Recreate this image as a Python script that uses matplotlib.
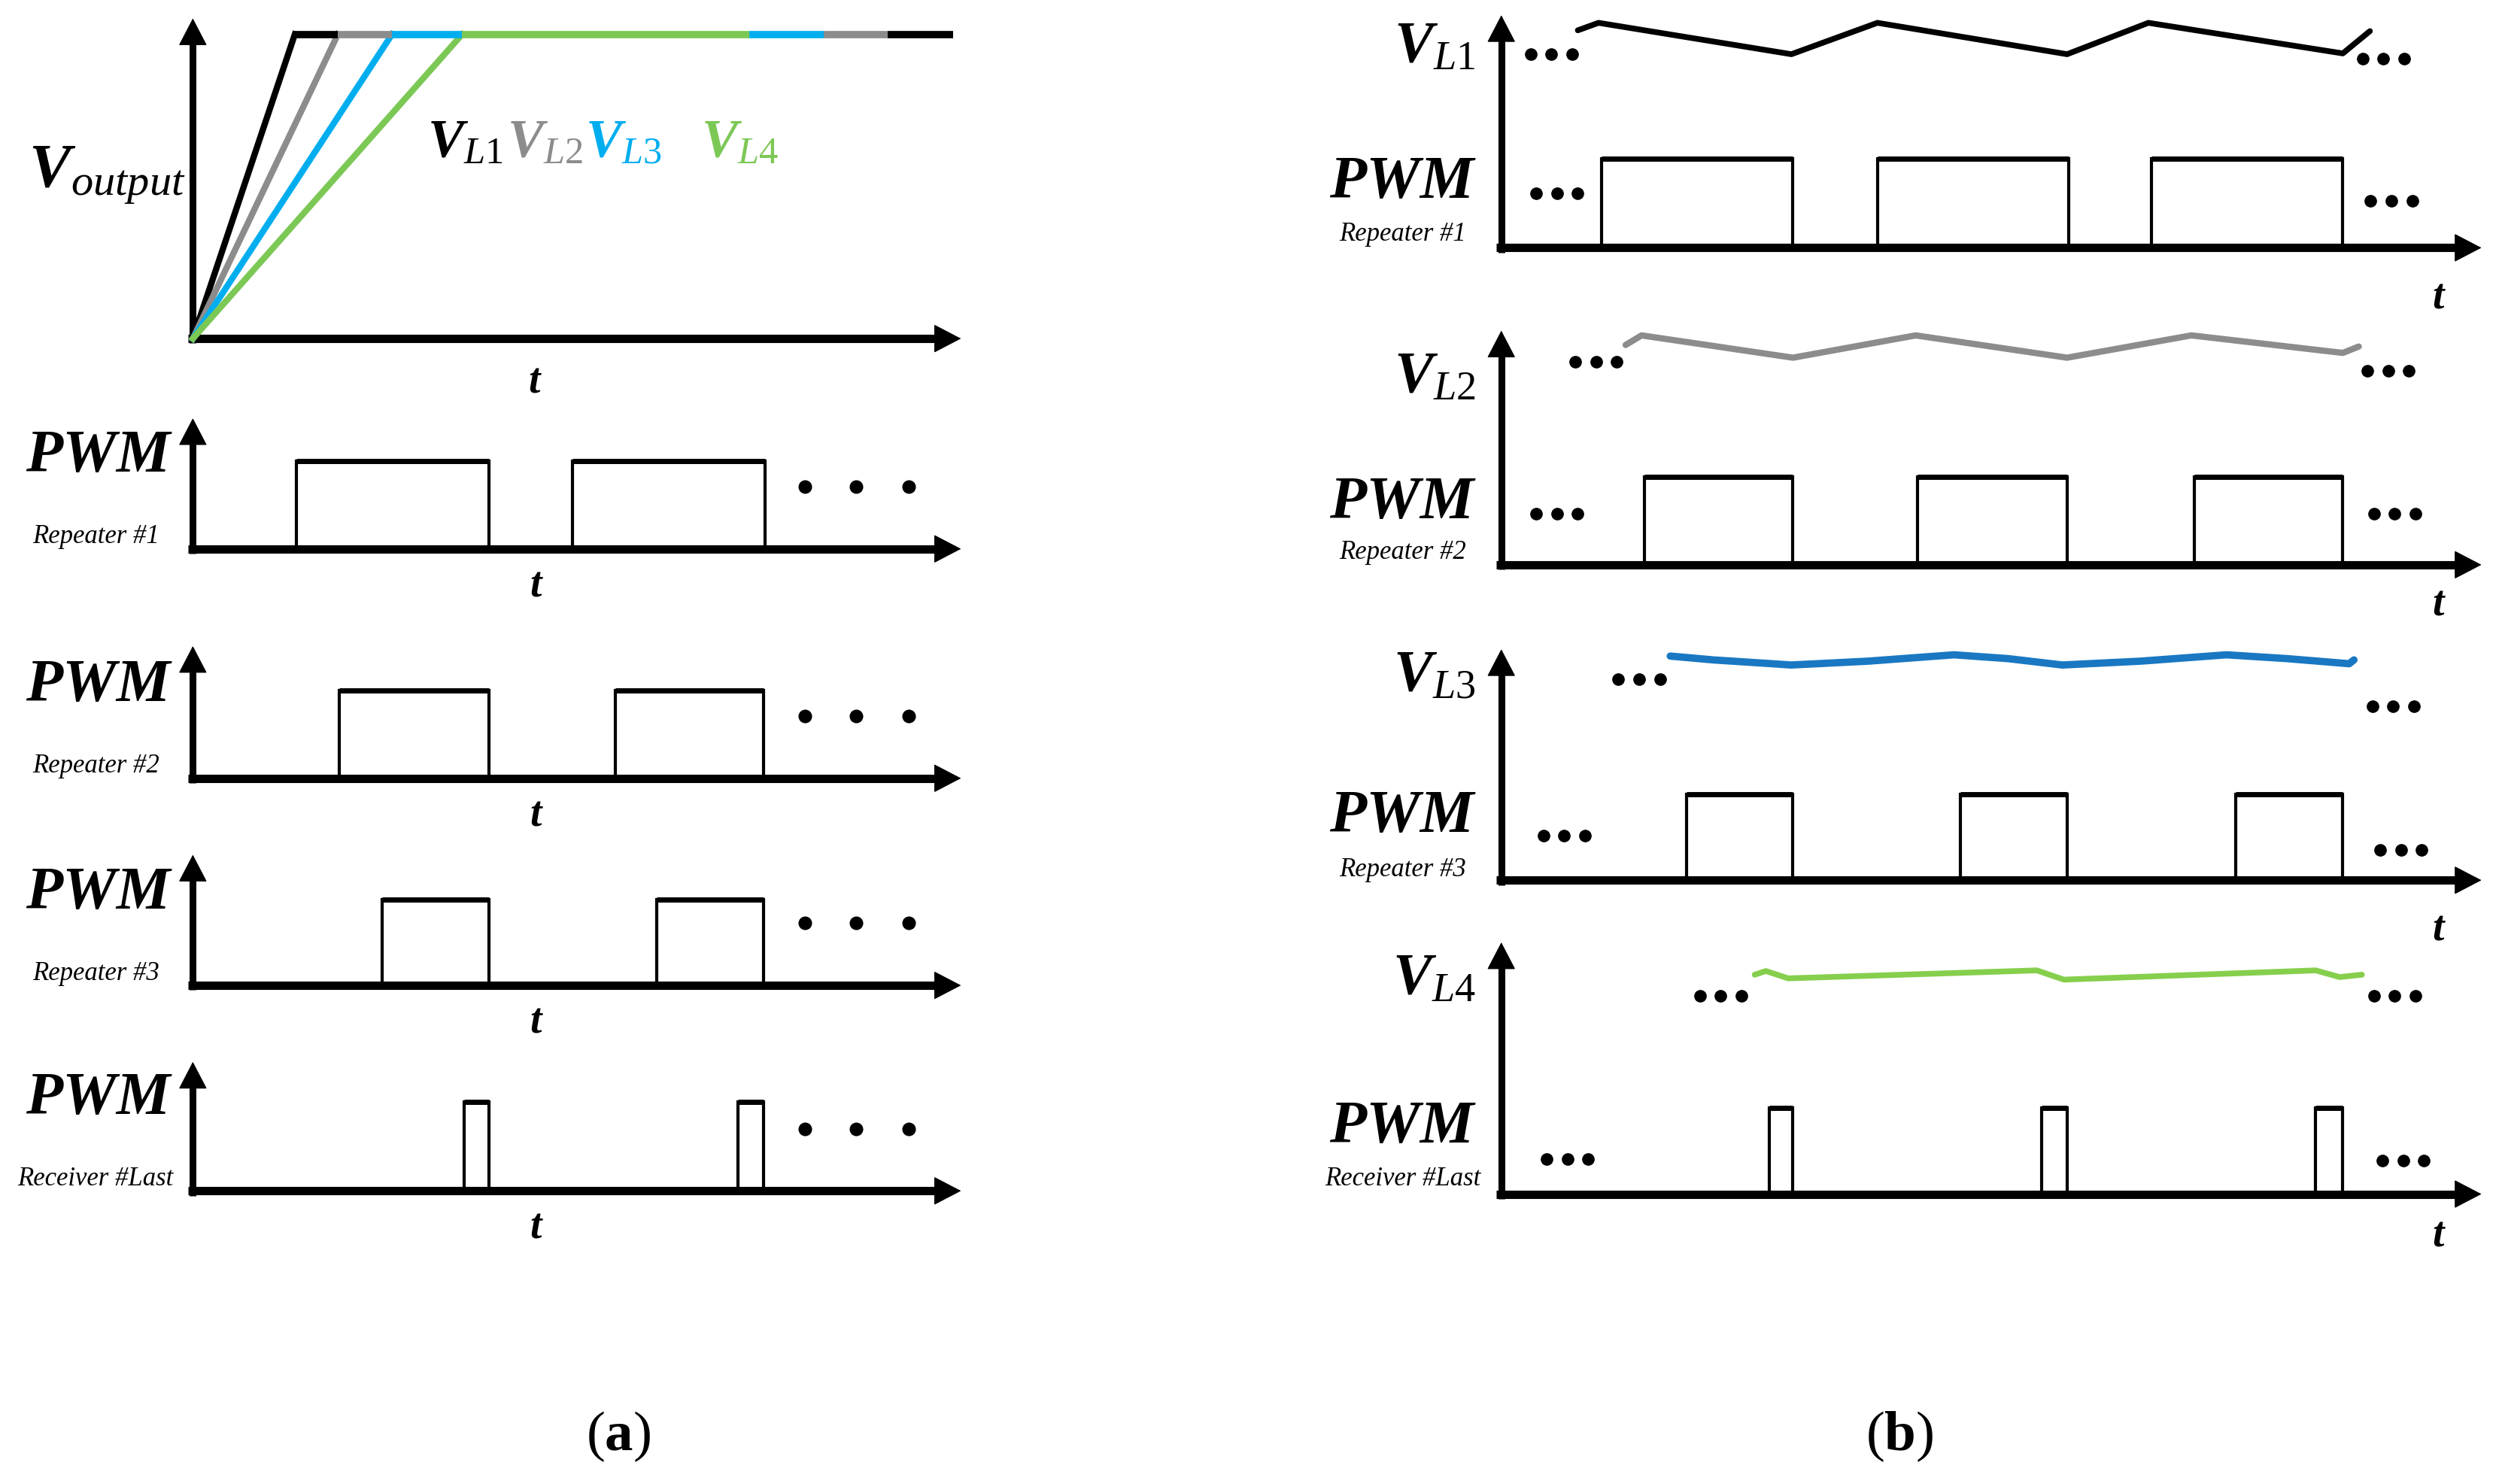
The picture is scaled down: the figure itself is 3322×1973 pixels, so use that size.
import matplotlib
matplotlib.use("Agg")
import matplotlib.pyplot as plt

plt.rcParams['font.family'] = ['Liberation Serif', 'DejaVu Serif']
plt.rcParams['mathtext.fontset'] = 'custom'
plt.rcParams['mathtext.rm'] = 'Liberation Serif'
plt.rcParams['mathtext.it'] = 'Liberation Serif:italic'
plt.rcParams['mathtext.bf'] = 'Liberation Serif:bold'
plt.rcParams['mathtext.bfit'] = 'Liberation Serif:bold:italic'

# ---------------- panel (a) data ----------------
ramp_end = [64, 91, 125, 169]          # time at which V_L1..V_L4 reach the output level
v_level = 191
colors_a = ['#000000', '#8c8c8c', '#00aeef', '#7cc855']
vl_names = ['L1', 'L2', 'L3', 'L4']
vl_label_t = [147, 197, 246, 319]
plateau_edges = [64, 91, 125, 169, 349, 396, 436, 477]
plateau_color_idx = [0, 1, 2, 3, 2, 1, 0]

pwm_a_names = ['Repeater #1', 'Repeater #2', 'Repeater #3', 'Receiver #Last']
pwm_a_on = [[65, 238], [92, 265], [119, 291], [170, 342]]
pwm_a_off = [[186, 359], [186, 358], [186, 358], [186, 358]]
pwm_a_high = [55, 55, 54, 56]
dots_a_t = [384, 416, 449]
dots_a_v = 39

# ---------------- panel (b) data ----------------
pwm_b_names = ['Repeater #1', 'Repeater #2', 'Repeater #3', 'Receiver #Last']
pwm_b_on = [[63, 236, 408], [90, 261, 435], [116, 288, 461], [168, 339, 511]]
pwm_b_off = [[183, 356, 528], [183, 355, 528], [183, 355, 528], [183, 355, 528]]
pwm_b_high = [56, 55, 54, 54]

vl1_t = [48, 61, 182, 236, 355, 406, 528, 545]
vl1_v = [136.5, 141.2, 121.5, 141.2, 121.5, 141.2, 122.0, 136.0]
vl2_t = [78, 88, 183, 260, 355, 433, 528, 538]
vl2_v = [138, 144, 130, 144, 130, 144, 133, 137]
vl3_t = [106, 133, 182, 230, 284, 318, 352, 401, 455, 493, 532, 535]
vl3_v = [140.7, 138.3, 135.1, 137.5, 141.5, 139.1, 135.1, 137.5, 141.5, 139.1, 135.9, 138.3]
vl4_t = [159, 166, 180, 336, 353, 511, 526, 540]
vl4_v = [137.7, 140.0, 135.4, 140.4, 134.6, 140.4, 136.2, 137.7]
vl_b_t = [vl1_t, vl2_t, vl3_t, vl4_t]
vl_b_v = [vl1_v, vl2_v, vl3_v, vl4_v]
colors_b = ['#000000', '#8c8c8c', '#1a78c2', '#86cf4d']
vl_b_width = [5.5, 6.0, 7.0, 5.5]

# ellipsis groups (centre t, v): V left, V right, PWM left, PWM right
dots_b = [
    [(31.5, 121.6), (553.5, 118.5), (35, 34), (558.5, 29.3)],
    [(59.5, 127.3), (556.5, 121.6), (35, 32), (560.5, 32)],
    [(86.5, 126.3), (559.5, 109), (39.5, 28), (564.5, 19)],
    [(137.5, 124.4), (560.5, 124.4), (41.5, 22), (566, 21)],
]

# layout grid (reference at 1568 x 932)
W, H = 1568, 932
a_top = (121, 213, 603, 12)
a_rows_y0 = [345, 489, 619, 748]
a_rows_tip = [263, 406, 537, 667]
b_x0, b_x1 = 942, 1557
b_rows_y0 = [156, 355, 553, 750]
b_rows_tip = [10, 208, 408, 592]

fig = plt.figure(figsize=(33.22, 19.74), dpi=100)


def frame(x0, y0, x1, y1):
    ax = fig.add_axes([x0 / W, 1 - y0 / H, (x1 - x0) / W, (y0 - y1) / H])
    ax.set_xlim(0, x1 - x0)
    ax.set_ylim(0, y0 - y1)
    ax.axis('off')
    tx, ty = x1 - x0, y0 - y1
    ax.plot([-3, tx - 10], [0, 0], color='k', lw=8, solid_capstyle='butt', clip_on=False)
    ax.plot([0, 0], [-3, ty - 10], color='k', lw=6.5, solid_capstyle='butt', clip_on=False)
    hd = dict(arrowstyle='-|>,head_length=2.4,head_width=1.25', color='k', lw=1,
              shrinkA=0, shrinkB=0, mutation_scale=10)
    ax.annotate('', xy=(tx, 0), xytext=(tx - 20, 0), arrowprops=hd, annotation_clip=False)
    ax.annotate('', xy=(0, ty), xytext=(0, ty - 20), arrowprops=hd, annotation_clip=False)
    return ax


def pulses(ax, on, off, h):
    for a, b in zip(on, off):
        ax.plot([a, a, b, b], [0, h, h, 0], color='k', lw=3, clip_on=False,
                solid_joinstyle='miter')
        ax.plot([a, b], [h, h], color='k', lw=5, solid_capstyle='butt', clip_on=False)


def vlab(name):
    return r'$\mathbfit{V}_{\mathit{%s}}$' % name


big = dict(fontsize=58, fontweight='bold', fontstyle='italic')
tlab = dict(fontsize=40, fontweight='bold', fontstyle='italic', ha='center', va='center')
small = dict(fontsize=25, fontstyle='italic', ha='center', va='center')

# ---- (a) top: V_output ----
ax = frame(*a_top)
for i in range(4):
    ax.plot([0, ramp_end[i]], [0, v_level], color=colors_a[i], lw=6, clip_on=False)
for i, c in enumerate(plateau_color_idx):
    ax.plot([plateau_edges[i], plateau_edges[i + 1]], [v_level, v_level],
            color=colors_a[c], lw=7, solid_capstyle='butt', clip_on=False)
ax.text(-103, 103, vlab('output'), fontsize=60, ha='left', va='center')
for i in range(4):
    ax.text(vl_label_t[i], 123, vlab(vl_names[i]),
            fontsize=52, color=colors_a[i], ha='left', va='center')
ax.text(214, -27, 't', **tlab)

# ---- (a) PWM rows ----
for k in range(4):
    ax = frame(a_top[0], a_rows_y0[k], a_top[2], a_rows_tip[k])
    pulses(ax, pwm_a_on[k], pwm_a_off[k], pwm_a_high[k])
    ax.plot(dots_a_t, [dots_a_v] * 3, 'o', color='k', ms=12, clip_on=False)
    ax.text(-14, 58, 'PWM', ha='right', va='center', **big)
    ax.text(-61, 8, pwm_a_names[k], **small)
    ax.text(215, -23, 't', **tlab)

# ---- (b) rows ----
vl_b_label_v = [126, 118, 128, 135]
pwm_b_label_v = [41, 39, 40, 42]
sub_b_v = [9, 8, 7, 10]
t_b_v = [-31, -25, -31, -26]
for k in range(4):
    ax = frame(b_x0, b_rows_y0[k], b_x1, b_rows_tip[k])
    pulses(ax, pwm_b_on[k], pwm_b_off[k], pwm_b_high[k])
    ax.plot(vl_b_t[k], vl_b_v[k], color=colors_b[k], lw=vl_b_width[k],
            solid_joinstyle='round', solid_capstyle='round', clip_on=False)
    for (ct, cv) in dots_b[k]:
        ax.plot([ct - 13, ct, ct + 13], [cv] * 3, 'o', color='k', ms=11, clip_on=False)
    ax.text(-16, vl_b_label_v[k], vlab(vl_names[k]), fontsize=56, ha='right', va='center')
    ax.text(-17, pwm_b_label_v[k], 'PWM', ha='right', va='center', **big)
    ax.text(-62, sub_b_v[k], pwm_b_names[k], **small)
    ax.text(588, t_b_v[k], 't', **tlab)

fig.text(388 / W, 1 - 902 / H, r'($\mathbf{a}$)', fontsize=54, ha='center', va='center')
fig.text(1192 / W, 1 - 902 / H, r'($\mathbf{b}$)', fontsize=54, ha='center', va='center')

fig.savefig('out.png', dpi=100, facecolor='white')
